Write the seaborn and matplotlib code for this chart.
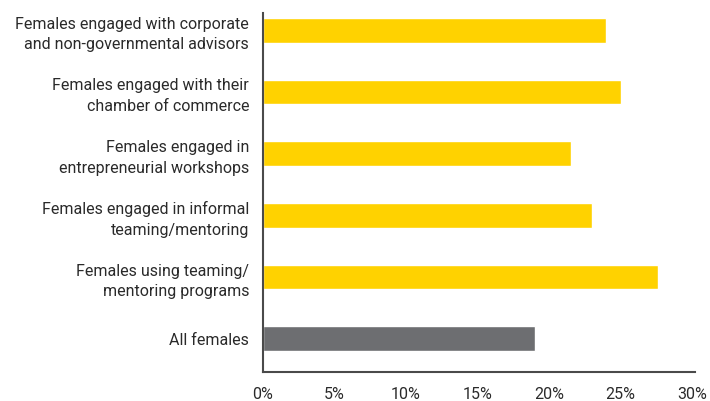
import numpy as np
import pandas as pd
import seaborn as sns
import matplotlib.pyplot as plt
from matplotlib.ticker import FuncFormatter

categories = ['Females engaged with corporate\nand non-governmental advisors',
              'Females engaged with their\nchamber of commerce',
              'Females engaged in\nentrepreneurial workshops',
              'Females engaged in informal\nteaming/mentoring',
              'Females using teaming/\nmentoring programs',
              'All females']
values = [24.0, 25.0, 21.5, 23.0, 27.6, 19.0]
colors = ['#FFD200', '#FFD200', '#FFD200', '#FFD200', '#FFD200', '#6D6E71']

sns.set_style('white')
plt.rcParams['font.family'] = ['Roboto', 'DejaVu Sans']

df = pd.DataFrame({'group': categories, 'share': values})

fig = plt.figure(figsize=(7.1, 4.01), dpi=100)
ax = fig.add_axes([0.3704, 0.0723, 0.6085, 0.8953])

sns.barplot(data=df, y='group', x='share', hue='group', palette=colors,
            orient='h', width=0.4, legend=False, saturation=1, ax=ax)

ax.set_xlim(0, 30.2)
ax.set_ylim(5.54, -0.28)
ax.set_xticks([0, 5, 10, 15, 20, 25, 30])
ax.xaxis.set_major_formatter(FuncFormatter(lambda v, p: f'{v:.0f}%'))
ax.set_xlabel('')
ax.set_ylabel('')

for s in ['top', 'right']:
    ax.spines[s].set_visible(False)
for s in ['left', 'bottom']:
    ax.spines[s].set_color('#4a4a4a')
    ax.spines[s].set_linewidth(1.5)

ax.tick_params(axis='y', length=0, pad=10, labelsize=11.5, labelcolor='#2a2a2a')
ax.tick_params(axis='x', length=0, pad=11, labelsize=11.5, labelcolor='#2a2a2a')
for t in ax.get_yticklabels():
    t.set_linespacing(1.45)

fig.savefig('out.png', dpi=100)
